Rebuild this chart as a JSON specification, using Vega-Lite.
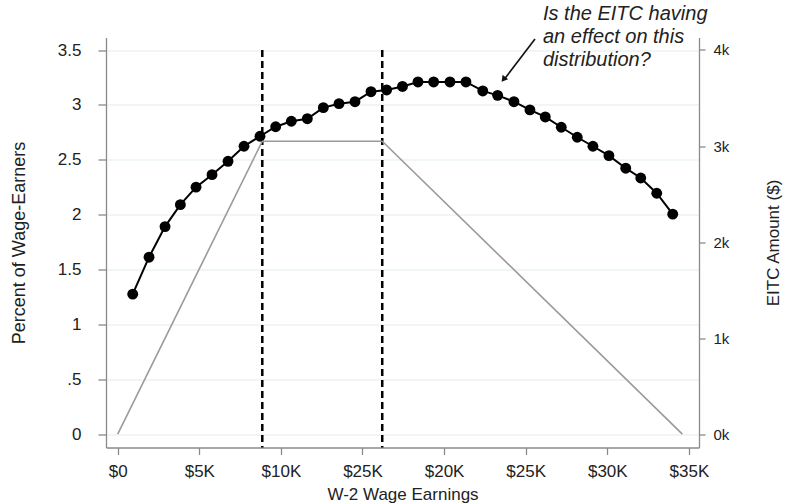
{
  "$schema": "https://vega.github.io/schema/vega-lite/v6.json",
  "width": 593,
  "height": 410,
  "autosize": {"type": "none"},
  "padding": {"left": 106, "top": 37.5, "right": 89, "bottom": 56.5},
  "background": "white",
  "config": {
    "view": {"stroke": null},
    "font": "Liberation Sans",
    "axis": {
      "labelFont": "Liberation Sans",
      "titleFont": "Liberation Sans",
      "labelColor": "#222",
      "titleColor": "#222",
      "titleFontWeight": "normal",
      "domainColor": "#8a8a8a",
      "tickColor": "#8a8a8a",
      "domainWidth": 1.3,
      "tickWidth": 1.3
    }
  },
  "datasets": {
    "dist": [
      {"earn": 920, "pct": 1.275},
      {"earn": 1920, "pct": 1.612},
      {"earn": 2900, "pct": 1.891},
      {"earn": 3840, "pct": 2.091},
      {"earn": 4800, "pct": 2.25},
      {"earn": 5780, "pct": 2.364},
      {"earn": 6760, "pct": 2.486},
      {"earn": 7740, "pct": 2.623},
      {"earn": 8720, "pct": 2.714},
      {"earn": 9680, "pct": 2.801},
      {"earn": 10640, "pct": 2.851},
      {"earn": 11620, "pct": 2.874},
      {"earn": 12600, "pct": 2.975},
      {"earn": 13560, "pct": 3.011},
      {"earn": 14540, "pct": 3.029},
      {"earn": 15520, "pct": 3.12},
      {"earn": 16480, "pct": 3.136},
      {"earn": 17450, "pct": 3.168},
      {"earn": 18400, "pct": 3.209},
      {"earn": 19360, "pct": 3.209},
      {"earn": 20360, "pct": 3.209},
      {"earn": 21340, "pct": 3.209},
      {"earn": 22370, "pct": 3.127},
      {"earn": 23280, "pct": 3.087},
      {"earn": 24280, "pct": 3.029},
      {"earn": 25260, "pct": 2.954},
      {"earn": 26200, "pct": 2.89},
      {"earn": 27180, "pct": 2.796},
      {"earn": 28160, "pct": 2.705},
      {"earn": 29120, "pct": 2.623},
      {"earn": 30100, "pct": 2.537},
      {"earn": 31130, "pct": 2.423},
      {"earn": 32050, "pct": 2.334},
      {"earn": 33030, "pct": 2.195},
      {"earn": 34010, "pct": 2.004}
    ],
    "eitc": [
      {"earn": 0, "eitc": 0},
      {"earn": 8860, "eitc": 3050},
      {"earn": 16210, "eitc": 3050},
      {"earn": 34600, "eitc": 0}
    ],
    "kinks": [
      {"earn": 8860, "top": 3.5, "bottom": -0.122},
      {"earn": 16210, "top": 3.5, "bottom": -0.122}
    ],
    "note": [
      {"earn": 26060, "pct": 3.773, "label": "Is the EITC having\nan effect on this\ndistribution?"}
    ],
    "arrow": [
      {"earn": 25570, "pct": 3.6, "earn2": 23750, "pct2": 3.245}
    ],
    "arrowhead": [
      {"earn": 23640, "pct": 3.232}
    ]
  },
  "layer": [
    {
      "layer": [
        {
          "data": {"name": "dist"},
          "mark": {"type": "line", "color": "black", "strokeWidth": 2},
          "encoding": {
            "x": {
              "field": "earn", "type": "quantitative",
              "scale": {"domain": [-717, 35620], "nice": false, "zero": false},
              "axis": {
                "values": [0, 5000, 10000, 15000, 20000, 25000, 30000, 35000],
                "labelExpr": "datum.value == 0 ? '$0' : datum.value == 15000 ? '$25K' : '$' + (datum.value / 1000) + 'K'",
                "title": "W-2 Wage Earnings",
                "titleFontSize": 17,
                "labelFontSize": 17,
                "tickSize": 7,
                "labelPadding": 9,
                "titlePadding": 7,
                "grid": false
              }
            },
            "y": {
              "field": "pct", "type": "quantitative",
              "scale": {"domain": [-0.122, 3.614], "nice": false, "zero": false},
              "axis": {
                "orient": "left",
                "values": [0, 0.5, 1, 1.5, 2, 2.5, 3, 3.5],
                "labelExpr": "datum.value == 0.5 ? '.5' : format(datum.value, '')",
                "title": "Percent of Wage-Earners",
                "titleFontSize": 18,
                "labelFontSize": 17,
                "tickSize": 8,
                "labelPadding": 17,
                "titlePadding": 29,
                "grid": true,
                "gridColor": "#e2eded",
                "gridWidth": 1.2
              }
            }
          }
        },
        {
          "data": {"name": "dist"},
          "mark": {"type": "point", "filled": true, "color": "black", "opacity": 1, "size": 118},
          "encoding": {
            "x": {"field": "earn", "type": "quantitative"},
            "y": {"field": "pct", "type": "quantitative"}
          }
        },
        {
          "data": {"name": "kinks"},
          "mark": {"type": "rule", "color": "black", "strokeWidth": 2.5, "strokeDash": [7, 4]},
          "encoding": {
            "x": {"field": "earn", "type": "quantitative"},
            "y": {"field": "top", "type": "quantitative"},
            "y2": {"field": "bottom"}
          }
        },
        {
          "data": {"name": "note"},
          "mark": {"type": "text", "align": "left", "baseline": "alphabetic", "fontStyle": "italic", "fontSize": 20, "lineBreak": "\n", "lineHeight": 23, "color": "#222", "font": "Liberation Sans"},
          "encoding": {
            "x": {"field": "earn", "type": "quantitative"},
            "y": {"field": "pct", "type": "quantitative"},
            "text": {"field": "label"}
          }
        },
        {
          "data": {"name": "arrow"},
          "mark": {"type": "rule", "color": "#111", "strokeWidth": 1.6},
          "encoding": {
            "x": {"field": "earn", "type": "quantitative"},
            "y": {"field": "pct", "type": "quantitative"},
            "x2": {"field": "earn2"},
            "y2": {"field": "pct2"}
          }
        },
        {
          "data": {"name": "arrowhead"},
          "mark": {"type": "point", "shape": "triangle-up", "filled": true, "color": "#111", "opacity": 1, "size": 50, "angle": 218},
          "encoding": {
            "x": {"field": "earn", "type": "quantitative"},
            "y": {"field": "pct", "type": "quantitative"}
          }
        }
      ]
    },
    {
      "data": {"name": "eitc"},
      "mark": {"type": "line", "color": "#9a9a9a", "strokeWidth": 1.6},
      "encoding": {
        "x": {"field": "earn", "type": "quantitative"},
        "y": {
          "field": "eitc", "type": "quantitative",
          "scale": {"domain": [-139, 4130], "nice": false, "zero": false},
          "axis": {
            "orient": "right",
            "values": [0, 1000, 2000, 3000, 4000],
            "labelExpr": "(datum.value / 1000) + 'k'",
            "title": "EITC Amount ($)",
            "titleAngle": 270,
            "titleFontSize": 17,
            "labelFontSize": 15,
            "tickSize": 6,
            "labelPadding": 8,
            "titlePadding": 54,
            "grid": false
          }
        }
      }
    }
  ],
  "resolve": {"scale": {"y": "independent"}}
}
